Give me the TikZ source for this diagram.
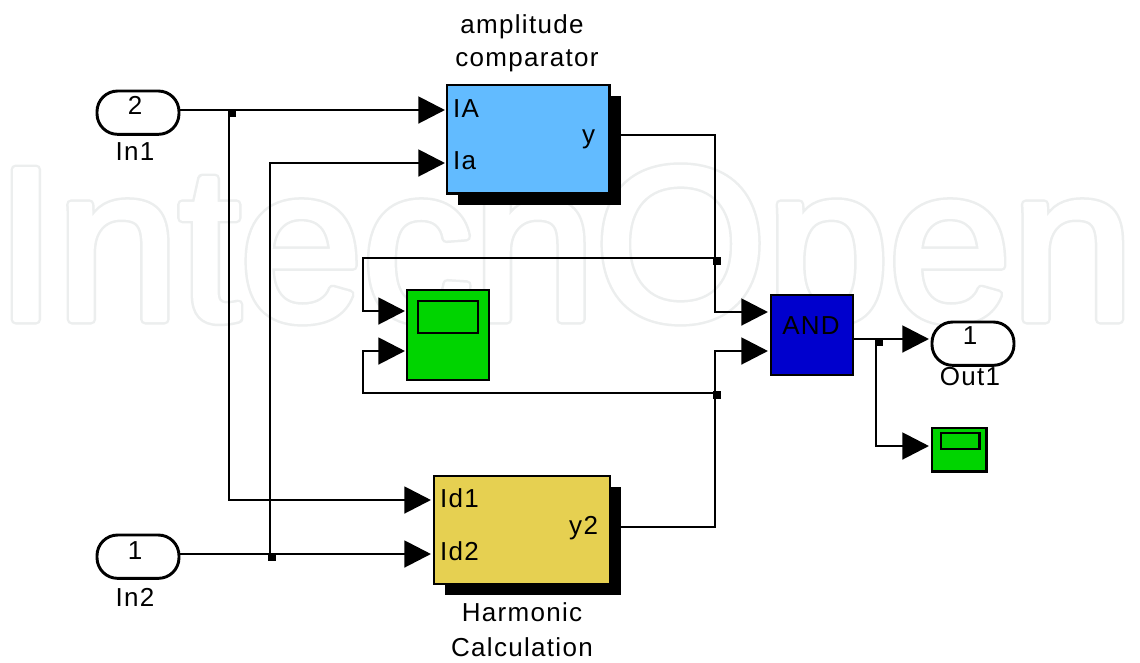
\documentclass[tikz,border=0pt]{standalone}
\usepackage{fontspec}
\setmainfont{Liberation Sans}
\newfontfamily\lbl[LetterSpace=5]{Liberation Sans}
\newfontfamily\wm[FakeStretch=1.01]{Liberation Sans}
\usetikzlibrary{arrows.meta}
\definecolor{ablue}{HTML}{62BBFF}
\definecolor{hgold}{HTML}{E6D051}
\definecolor{sgreen}{HTML}{00D400}
\definecolor{andblue}{HTML}{0000CD}
\tikzset{
  wire/.style={line width=2.2pt,line join=miter,-{Triangle[length=20pt,width=20pt]}},
  blockbox/.style={draw=black,line width=2.2pt,inner sep=0pt,outer sep=0pt,anchor=north west},
  port/.style={inner sep=0pt,outer sep=0pt,font=\lbl\fontsize{19.5pt}{22pt}\selectfont},
  captext/.style={inner sep=0pt,outer sep=0pt,font=\lbl\fontsize{19.5pt}{22pt}\selectfont,anchor=center},
  dotj/.style={fill=black,inner sep=0pt,minimum width=6pt,minimum height=6pt,outer sep=0pt},
  term/.style={draw=black,line width=2.2pt,rounded corners=15.5pt,fill=white,inner sep=0pt,outer sep=0pt,minimum width=61.5pt,minimum height=32.5pt,anchor=north west},
  wmtext/.style={anchor=base west,inner sep=0pt,font=\wm\fontsize{163.5pt}{166pt}\selectfont}
}
\begin{document}
\begin{tikzpicture}[x=0.75pt,y=-0.75pt]
\useasboundingbox (0,0) rectangle (1140,662);
\fill[white] (0,0) rectangle (1140,662);
% watermark: a thick grey stroke of the letters, then a thinner white one inside it
\begin{scope}
\clip (0,0) rectangle (1140,662);
\node[wmtext,text=white] (wmarka) at (-5,319.5) {\special{pdf:code q 1 Tr 7.5 w 1 j 0.925 0.933 0.933 RG}IntechOpen\special{pdf:code Q}};
\node[wmtext,text=white] (wmarkb) at (-5,319.5) {\special{pdf:code q 2 Tr 3.75 w 1 j 1 1 1 RG 1 1 1 rg}IntechOpen\special{pdf:code Q}};
\end{scope}
% shadows and blocks
\fill (458,96) rectangle (621,205);
\fill (445,487) rectangle (621,595);
\node[blockbox,fill=ablue,minimum width=122pt,minimum height=81.5pt] (amp) at (447,85) {};
\node[blockbox,fill=hgold,minimum width=132pt,minimum height=81pt] (harm) at (434,476) {};
\node[blockbox,fill=sgreen,minimum width=61.5pt,minimum height=67.5pt] (scope) at (407,290) {};
\node[blockbox,minimum width=45pt,minimum height=24pt] (scopein) at (418,301) {};
\node[blockbox,fill=andblue,minimum width=61.5pt,minimum height=60pt] (andb) at (771,295) {};
\node[blockbox,fill=sgreen,minimum width=41pt,minimum height=32.5pt] (scopeb) at (932,428) {};
\node[blockbox,minimum width=29pt,minimum height=12pt] (scopebin) at (941,433) {};
\node[term] (in1) at (97,91) {};
\node[term] (in2) at (97,535) {};
\node[term] (out1) at (932,322) {};
% texts
\node[captext] (t1) at (135,105) {2};
\node[captext] (t2) at (135,551) {1};
\node[captext] (t3) at (970,336) {1};
\node[captext] (l1) at (135,152) {In1};
\node[captext] (l2) at (135,597) {In2};
\node[captext] (l3) at (970,377) {Out1};
\node[captext] (c1) at (522,27) {amplitude};
\node[captext] (c2) at (527,61) {comparator};
\node[captext] (c3) at (522,612) {Harmonic};
\node[captext] (c4) at (522,647) {Calculation};
\node[captext] (andt) at (811,326) {AND};
\node[port,anchor=west] (pIA) at (453,109) {IA};
\node[port,anchor=west] (pIa) at (453,161) {Ia};
\node[port,anchor=east] (py) at (595,139) {y};
\node[port,anchor=west] (pI1) at (440,498) {Id1};
\node[port,anchor=west] (pI2) at (440,551) {Id2};
\node[port,anchor=east] (py2) at (598,528) {y2};
% ports
\coordinate (aA) at (445,110);
\coordinate (aa) at (445,163);
\coordinate (ay) at (610,135);
\coordinate (h1) at (431,500);
\coordinate (h2) at (431,554);
\coordinate (hy) at (610,527);
\coordinate (s1) at (405,311);
\coordinate (s2) at (405,351);
\coordinate (n1) at (768,312);
\coordinate (n2) at (768,351);
\coordinate (ny) at (853,339);
\coordinate (oin) at (929,339);
\coordinate (sb) at (929,446);
\coordinate (i1o) at (179,110);
\coordinate (i2o) at (179,554);
% junctions
\node[dotj] (j1) at (232,113) {};
\node[dotj] (j2) at (272,557) {};
\node[dotj] (j3) at (717,261) {};
\node[dotj] (j4) at (717,395) {};
\node[dotj] (j5) at (879,342) {};
% wires
\draw[wire] (i1o) -- (aA);
\draw[wire] (229,110) |- (h1);
\draw[wire] (i2o) -- (h2);
\draw[wire] (270,554) |- (aa);
\draw[wire] (ay) -- (715,135) |- (n1);
\draw[wire] (hy) -- (715,527) |- (n2);
\draw[wire] (715,258) -- (363,258) |- (s1);
\draw[wire] (715,393) -- (363,393) |- (s2);
\draw[wire] (ny) -- (oin);
\draw[wire] (876,339) |- (sb);
\end{tikzpicture}
\end{document}
